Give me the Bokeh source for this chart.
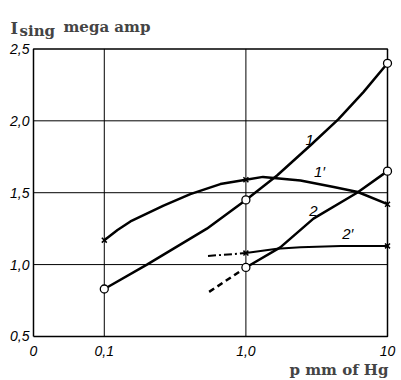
import numpy as np
from bokeh.plotting import figure
from bokeh.models import FixedTicker, Label, Title
from bokeh.core.properties import value
from bokeh.embed import file_html
from bokeh.resources import INLINE

# ---- data ----
x_tick_pos = [-1.5, -1.0, 0.0, 1.0]          # log10(p); left edge is labelled "0"
x_tick_labels = ["0", "0,1", "1,0", "10"]
x_grid_pos = [-1.0, 0.0]
y_ticks = [0.5, 1.0, 1.5, 2.0, 2.5]
y_tick_labels = ["0,5", "1,0", "1,5", "2,0", "2,5"]
y_grid = [1.0, 1.5, 2.0]

marker_p = [0.1, 1.0, 10.0]
curve1_marks = [0.83, 1.45, 2.40]
curve1p_marks = [1.17, 1.59, 1.42]
marker_p2 = [1.0, 10.0]
curve2_marks = [0.98, 1.65]
curve2p_marks = [1.08, 1.13]

curve1_p = [0.1, 0.2, 0.53, 1.0, 1.66, 2.86, 4.49, 6.76, 10.0]
curve1_i = [0.83, 1.0, 1.25, 1.45, 1.62, 1.83, 2.01, 2.20, 2.40]

curve1p_p = [0.1, 0.124, 0.153, 0.262, 0.405, 0.66, 1.0, 1.32, 2.43, 4.17, 6.17, 10.0]
curve1p_i = [1.17, 1.24, 1.30, 1.41, 1.49, 1.56, 1.59, 1.61, 1.585, 1.54, 1.505, 1.42]

curve2_p = [1.0, 1.75, 3.0, 6.1, 10.0]
curve2_i = [0.98, 1.12, 1.32, 1.50, 1.65]
curve2_dash_p = [0.55, 1.0]
curve2_dash_i = [0.81, 0.98]

curve2p_p = [1.0, 1.66, 2.43, 4.68, 10.0]
curve2p_i = [1.08, 1.11, 1.12, 1.13, 1.13]
curve2p_dash_p = [0.54, 1.0]
curve2p_dash_i = [1.06, 1.08]

lg = lambda v: list(np.log10(v))

x0, x1 = x_tick_pos[0], x_tick_pos[-1]
y0, y1 = y_ticks[0], y_ticks[-1]

p = figure(width=397, height=380, x_range=(-1.733, 1.0706), y_range=(0.458, 2.837),
           output_backend="svg", toolbar_location=None,
           min_border_left=0, min_border_right=0, min_border_top=0, min_border_bottom=38)
p.background_fill_color = "white"
p.border_fill_color = "white"
p.outline_line_color = None

lab_font = "Liberation Sans"
ax = p.xaxis[0]
ax.axis_line_color = None
ax.major_tick_line_color = None
ax.minor_tick_line_color = None
ax.major_tick_out = 0
ax.major_tick_in = 0
ax.major_label_text_font = lab_font
ax.major_label_text_font_style = "italic"
ax.major_label_text_font_size = "14px"
ax.major_label_text_color = "black"
ax.major_label_standoff = 3
p.xaxis.ticker = FixedTicker(ticks=x_tick_pos)
p.xaxis.major_label_overrides = {t: l for t, l in zip(x_tick_pos, x_tick_labels)}
p.yaxis.visible = False
p.xgrid.visible = False
p.ygrid.visible = False

# y tick labels placed at the tick values through the y scale
p.text(x=[x0] * len(y_ticks), y=y_ticks, text=y_tick_labels, x_offset=-4,
       text_align="right", text_baseline="middle", text_font=value(lab_font),
       text_font_style="italic", text_font_size="14px", text_color="black")

# grid lines limited to the box, and the box itself
p.segment(x0=x_grid_pos, y0=[y0] * len(x_grid_pos), x1=x_grid_pos, y1=[y1] * len(x_grid_pos),
          line_color="black", line_width=1)
p.segment(x0=[x0] * len(y_grid), y0=y_grid, x1=[x1] * len(y_grid), y1=y_grid,
          line_color="black", line_width=1)
p.line([x0, x1, x1, x0, x0], [y0, y0, y1, y1, y0], line_color="black", line_width=1.5)

lw = 2.5
p.line(lg(curve1_p), curve1_i, line_color="black", line_width=lw)
p.line(lg(curve1p_p), curve1p_i, line_color="black", line_width=lw)
p.line(lg(curve2_p), curve2_i, line_color="black", line_width=lw)
p.line(lg(curve2_dash_p), curve2_dash_i, line_color="black", line_width=lw, line_dash="6 4")
p.line(lg(curve2p_p), curve2p_i, line_color="black", line_width=2)
p.line(lg(curve2p_dash_p), curve2p_dash_i, line_color="black", line_width=2, line_dash="8 3 2 3")

p.scatter(lg(marker_p), curve1p_marks, marker="x", size=7, line_color="black", line_width=1.5)
p.scatter(lg(marker_p2), curve2p_marks, marker="x", size=7, line_color="black", line_width=1.5)
p.scatter(lg(marker_p), curve1_marks, marker="circle", size=8, line_color="black",
          fill_color="white", line_width=1.3)
p.scatter(lg(marker_p2), curve2_marks, marker="circle", size=8, line_color="black",
          fill_color="white", line_width=1.3)

# curve labels
for txt, x, y in [("1", 0.45, 1.87), ("1\u2032", 0.52, 1.65), ("2", 0.477, 1.37), ("2\u2032", 0.72, 1.215)]:
    p.add_layout(Label(x=x, y=y, text=txt, text_font=lab_font, text_font_style="italic",
                       text_font_size="15px", text_align="center", text_baseline="middle",
                       text_color="black"))

serif = "DejaVu Serif"
p.add_layout(Label(x=x0, y=y1, x_offset=-23, y_offset=20, text="I", text_font=serif,
                   text_font_style="bold", text_font_size="16px", text_baseline="alphabetic",
                   text_align="left"))
p.add_layout(Label(x=x0, y=y1, x_offset=-14, y_offset=18, text="sing", text_font=serif,
                   text_font_style="bold", text_font_size="15px", text_baseline="alphabetic",
                   text_align="left"))
p.add_layout(Label(x=x0, y=y1, x_offset=30, y_offset=22, text="mega amp", text_font=serif,
                   text_font_style="bold", text_font_size="15px", text_baseline="alphabetic",
                   text_align="left"))

p.add_layout(Title(text="p mm of Hg", align="right", text_font=serif, text_font_style="bold",
                   text_font_size="15px", standoff=0, offset=9), "below")

open("out.html", "w").write(file_html(p, INLINE))
